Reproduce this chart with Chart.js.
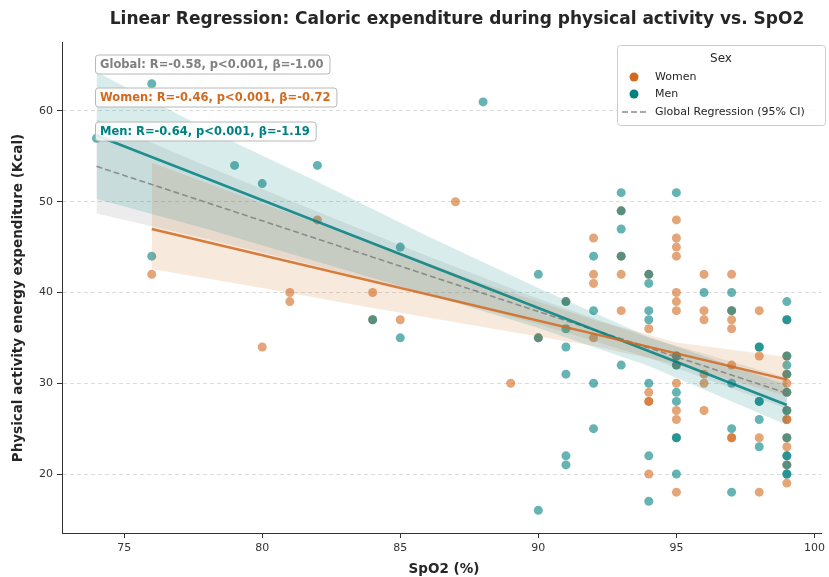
<!DOCTYPE html>
<html>
<head>
<meta charset="utf-8">
<script src="https://cdn.jsdelivr.net/npm/chart.js@4.4.1/dist/chart.umd.min.js"></script>
<style>
  html, body { margin: 0; padding: 0; background: #fff; }
  #wrap { width: 829px; height: 577px; }
</style>
</head>
<body>
<div id="wrap"><canvas id="regChart" width="829" height="577"></canvas></div>
<script>
// scatter points (SpO2 %, Kcal)
var womenX = [76, 80, 81, 81, 82, 84, 84, 85, 87, 89, 90, 91,
  92, 92, 92, 92, 93, 93, 93, 93,
  94, 94, 94, 94, 94, 94,
  95, 95, 95, 95, 95, 95, 95, 95, 95, 95, 95, 95, 95,
  96, 96, 96, 96, 96, 96,
  97, 97, 97, 97, 97, 97, 97,
  98, 98, 98, 98,
  99, 99, 99, 99, 99, 99, 99, 99, 99, 99, 99];
var womenY = [42, 34, 40, 39, 48, 40, 37, 37, 50, 30, 35, 39,
  46, 42, 41, 35, 49, 44, 42, 38,
  42, 36, 29, 28, 28, 20,
  48, 46, 45, 44, 40, 39, 38, 33, 32, 30, 27, 26, 18,
  42, 38, 37, 31, 30, 27,
  42, 38, 37, 36, 32, 24, 24,
  38, 33, 24, 18,
  33, 31, 30, 29, 27, 26, 26, 24, 23, 21, 19];

var menX = [74, 76, 76, 79, 80, 82, 84, 85, 85, 88, 90, 90, 90,
  91, 91, 91, 91, 91, 91,
  92, 92, 92, 92,
  93, 93, 93, 93, 93,
  94, 94, 94, 94, 94, 94, 94,
  95, 95, 95, 95, 95, 95, 95, 95,
  96,
  97, 97, 97, 97, 97,
  98, 98, 98, 98, 98, 98,
  99, 99, 99, 99, 99, 99, 99, 99, 99, 99, 99, 99, 99, 99];
var menY = [57, 63, 44, 54, 52, 54, 37, 45, 35, 61, 42, 35, 16,
  39, 36, 34, 31, 22, 21,
  44, 38, 30, 25,
  51, 49, 47, 44, 32,
  42, 41, 38, 37, 30, 22, 17,
  51, 33, 32, 29, 28, 24, 24, 20,
  40,
  40, 38, 30, 25, 18,
  34, 34, 28, 28, 26, 23,
  39, 37, 37, 33, 32, 31, 29, 27, 24, 22, 22, 21, 20, 20];

// regression lines and 95% CI bands
var menFitX = [74, 99];
var menFitY = [57.3, 27.6];
var menBandX = [74, 78, 82, 86, 90, 94, 99];
var menBandHi = [64.3, 58.0, 52.2, 46.2, 40.5, 35.1, 29.8];
var menBandLo = [50.3, 47.0, 43.4, 39.8, 36.1, 31.9, 25.4];

var womenFitX = [76, 99];
var womenFitY = [47.0, 30.4];
var womenBandX = [76, 80, 84, 88, 92, 95, 99];
var womenBandHi = [54.3, 49.8, 45.5, 41.0, 37.0, 34.5, 32.9];
var womenBandLo = [42.6, 40.5, 38.3, 36.2, 34.1, 32.1, 28.6];

var globalFitX = [74, 99];
var globalFitY = [53.9, 28.9];
var globalBandX = [74, 78, 82, 86, 90, 94, 99];
var globalBandHi = [59.1, 53.9, 48.9, 44.0, 39.3, 35.0, 30.6];
var globalBandLo = [48.7, 45.9, 42.9, 39.8, 36.5, 32.8, 27.2];

var xTicks = [75, 80, 85, 90, 95, 100];
var yTicks = [20, 30, 40, 50, 60];

var statLabels = [
    { text: 'Global: R=-0.58, p<0.001, \u03B2=-1.00', color: '#808080' },
    { text: 'Women: R=-0.46, p<0.001, \u03B2=-0.72', color: '#d2691e' },
    { text: 'Men: R=-0.64, p<0.001, \u03B2=-1.19', color: '#008080' }
];

var FONT = "'DejaVu Sans', sans-serif";
var womenColor = 'rgb(210, 105, 30)';
var menColor = 'rgb(0, 128, 128)';

function pts(xs, ys) {
    return xs.map(function (x, i) { return { x: x, y: ys[i] }; });
}

function band(label, xs, hi, lo, fillColor) {
    return [{
        label: label + ' hi',
        data: pts(xs, hi),
        showLine: true,
        borderWidth: 0,
        pointRadius: 0,
        fill: '+1',
        backgroundColor: fillColor,
        order: 5
    }, {
        label: label + ' lo',
        data: pts(xs, lo),
        showLine: true,
        borderWidth: 0,
        pointRadius: 0,
        fill: false,
        order: 5
    }];
}

// men first so they are drawn on top of women (chart.js paints index 0 last)
var datasets = [
    { label: 'Men', data: pts(menX, menY), pointRadius: 4.5, borderWidth: 0,
      backgroundColor: 'rgba(0, 128, 128, 0.6)', order: 10 },
    { label: 'Women', data: pts(womenX, womenY), pointRadius: 4.5, borderWidth: 0,
      backgroundColor: 'rgba(210, 105, 30, 0.6)', order: 10 }
]
    .concat(band('men', menBandX, menBandHi, menBandLo, 'rgba(0, 128, 128, 0.15)'))
    .concat(band('women', womenBandX, womenBandHi, womenBandLo, 'rgba(210, 105, 30, 0.15)'))
    .concat(band('global', globalBandX, globalBandHi, globalBandLo, 'rgba(128, 128, 128, 0.15)'))
    .concat([
        { label: 'Women fit', data: pts(womenFitX, womenFitY), showLine: true, pointRadius: 0,
          borderColor: 'rgba(210, 105, 30, 0.85)', borderWidth: 2.5, fill: false, order: 1 },
        { label: 'Men fit', data: pts(menFitX, menFitY), showLine: true, pointRadius: 0,
          borderColor: 'rgba(0, 128, 128, 0.85)', borderWidth: 2.5, fill: false, order: 1 },
        { label: 'Global fit', data: pts(globalFitX, globalFitY), showLine: true, pointRadius: 0,
          borderColor: 'rgba(128, 128, 128, 0.85)', borderWidth: 1.6, borderDash: [6, 3],
          fill: false, order: 1 }
    ]);

function roundBox(ctx, x, y, w, h, r) {
    ctx.beginPath();
    ctx.moveTo(x + r, y);
    ctx.lineTo(x + w - r, y);
    ctx.arcTo(x + w, y, x + w, y + r, r);
    ctx.lineTo(x + w, y + h - r);
    ctx.arcTo(x + w, y + h, x + w - r, y + h, r);
    ctx.lineTo(x + r, y + h);
    ctx.arcTo(x, y + h, x, y + h - r, r);
    ctx.lineTo(x, y + r);
    ctx.arcTo(x, y, x + r, y, r);
    ctx.closePath();
}

// titles, stat boxes and legend
var decorations = {
    id: 'decorations',
    afterDraw: function (chart) {
        var ctx = chart.ctx;
        var area = chart.chartArea;
        ctx.save();
        ctx.fillStyle = '#262626';
        ctx.textAlign = 'center';
        ctx.textBaseline = 'middle';
        ctx.font = 'bold 17px ' + FONT;
        ctx.fillText('Linear Regression: Caloric expenditure during physical activity vs. SpO2', 457, 20);

        ctx.font = 'bold 13.5px ' + FONT;
        ctx.fillText('SpO2 (%)', 444, 569);
        ctx.save();
        ctx.translate(18, 298);
        ctx.rotate(-Math.PI / 2);
        ctx.fillText('Physical activity energy expenditure (Kcal)', 0, 0);
        ctx.restore();

        // stat boxes
        ctx.font = 'bold 11.5px ' + FONT;
        ctx.textAlign = 'left';
        var boxY = [64.5, 97.5, 131.5];
        statLabels.forEach(function (s, i) {
            var w = ctx.measureText(s.text).width;
            roundBox(ctx, 95.5, boxY[i] - 9.5, w + 11, 19, 3);
            ctx.fillStyle = 'rgba(255,255,255,0.85)';
            ctx.fill();
            ctx.strokeStyle = '#b8b8b8';
            ctx.lineWidth = 1;
            ctx.stroke();
            ctx.fillStyle = s.color;
            ctx.fillText(s.text, 100, boxY[i] + 0.5);
        });

        // legend
        roundBox(ctx, 617.5, 45.5, 208, 80, 3);
        ctx.fillStyle = 'rgba(255,255,255,0.85)';
        ctx.fill();
        ctx.strokeStyle = '#cccccc';
        ctx.stroke();
        ctx.fillStyle = '#262626';
        ctx.textAlign = 'center';
        ctx.font = '12px ' + FONT;
        ctx.fillText('Sex', 721, 59);
        ctx.textAlign = 'left';
        ctx.font = '11px ' + FONT;
        ctx.fillStyle = womenColor;
        ctx.beginPath(); ctx.arc(634, 77, 4.5, 0, Math.PI * 2); ctx.fill();
        ctx.fillStyle = menColor;
        ctx.beginPath(); ctx.arc(634, 94, 4.5, 0, Math.PI * 2); ctx.fill();
        ctx.strokeStyle = 'rgba(128,128,128,0.9)';
        ctx.lineWidth = 1.6;
        ctx.setLineDash([6, 3]);
        ctx.beginPath(); ctx.moveTo(622, 112); ctx.lineTo(647, 112); ctx.stroke();
        ctx.setLineDash([]);
        ctx.fillStyle = '#262626';
        ctx.fillText('Women', 655, 77);
        ctx.fillText('Men', 655, 94);
        ctx.fillText('Global Regression (95% CI)', 655, 112);
        ctx.restore();
    }
};

var regChart = new Chart(document.getElementById('regChart'), {
    type: 'scatter',
    data: { datasets: datasets },
    options: {
        responsive: false,
        animation: false,
        devicePixelRatio: 1,
        layout: { padding: { left: 0, right: 2, top: 42, bottom: 0 } },
        plugins: {
            legend: { display: false },
            title: { display: false },
            tooltip: { enabled: false }
        },
        scales: {
            x: {
                type: 'linear',
                min: 72.75,
                max: 100.25,
                afterBuildTicks: function (scale) {
                    scale.ticks = xTicks.map(function (v) { return { value: v }; });
                },
                afterFit: function (scale) { scale.height = 44; },
                grid: { drawOnChartArea: false, drawTicks: true, tickLength: 5, tickColor: '#333' },
                border: { display: true, color: '#333', width: 1 },
                ticks: { color: '#333', font: { family: FONT, size: 11 }, padding: 4, maxRotation: 0 }
            },
            y: {
                type: 'linear',
                min: 13.5,
                max: 67.6,
                afterBuildTicks: function (scale) {
                    scale.ticks = yTicks.map(function (v) { return { value: v }; });
                },
                afterFit: function (scale) { scale.width = 62; },
                grid: { color: '#dcdcdc', drawTicks: true, tickLength: 5, tickColor: '#333' },
                border: { display: true, color: '#333', width: 1, dash: [4, 3] },
                ticks: { color: '#333', font: { family: FONT, size: 11 }, padding: 4 }
            }
        }
    },
    plugins: [decorations]
});
</script>
</body>
</html>
